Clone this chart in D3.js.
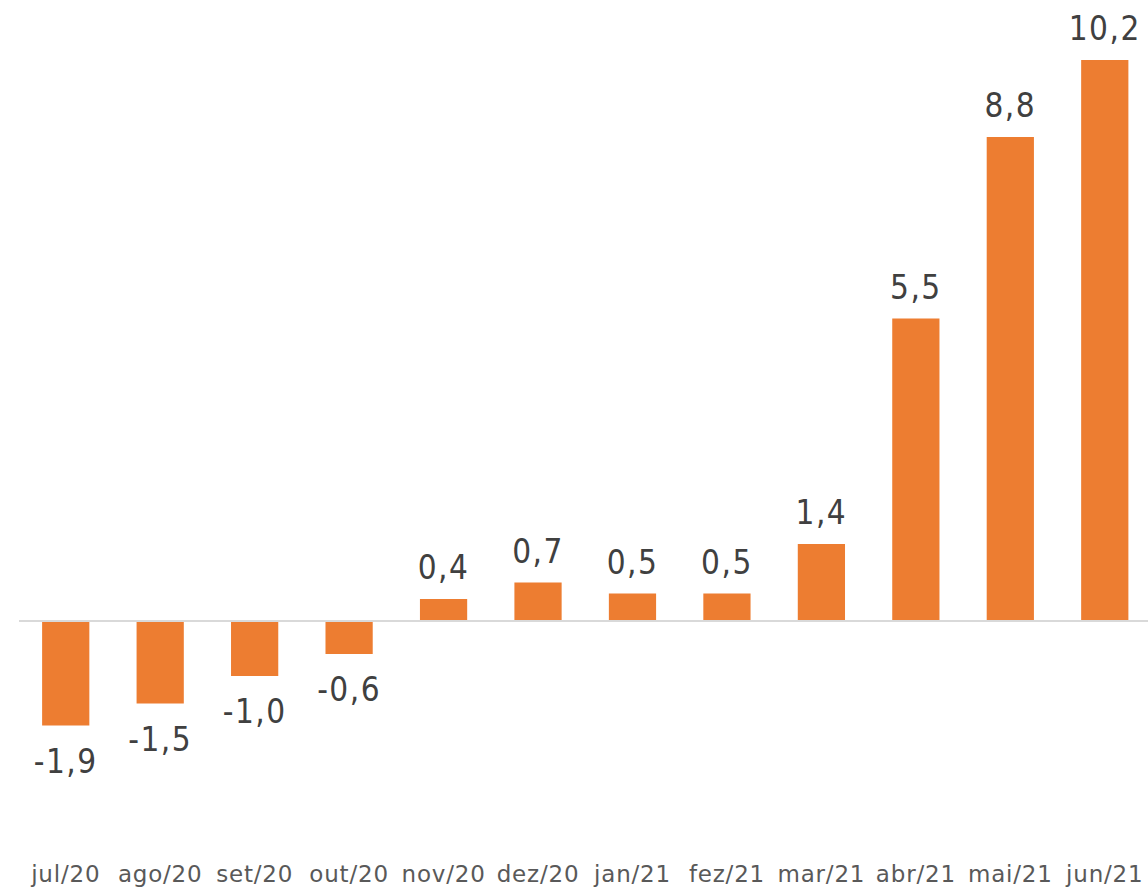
<!DOCTYPE html>
<html>
<head>
<meta charset="utf-8">
<script src="https://cdn.jsdelivr.net/npm/d3@7"></script>
<style>
  body { margin: 0; background: #fff; }
  svg { display: block; }
</style>
</head>
<body>
<div id="chart"></div>
<script>
// data
var months = ["jul/20", "ago/20", "set/20", "out/20", "nov/20", "dez/20",
              "jan/21", "fez/21", "mar/21", "abr/21", "mai/21", "jun/21"];
var values = [-1.9, -1.5, -1.0, -0.6, 0.4, 0.7, 0.5, 0.5, 1.4, 5.5, 8.8, 10.2];

var width = 1148, height = 891;

var svg = d3.select("#chart").append("svg")
  .attr("width", width)
  .attr("height", height);

// scales
var x = d3.scaleBand()
  .domain(months)
  .range([18.5, 1152])
  .paddingInner(0.5)
  .paddingOuter(0.25);

var y = d3.scaleLinear()
  .domain([-1.9, 10.2])
  .range([725.5, 60]);

var fmt = function(v) { return d3.format(".1f")(v).replace(".", ",").replace("−", "-"); };

// bars
svg.selectAll("rect.bar")
  .data(values)
  .enter().append("rect")
  .attr("class", "bar")
  .attr("x", function(d, i) { return x(months[i]); })
  .attr("width", x.bandwidth())
  .attr("y", function(d) { return y(Math.max(0, d)); })
  .attr("height", function(d) { return Math.abs(y(d) - y(0)); })
  .attr("fill", "#ED7D31");

// zero line
svg.append("line")
  .attr("x1", 19).attr("x2", width)
  .attr("y1", y(0)).attr("y2", y(0))
  .attr("stroke", "#D9D9D9")
  .attr("stroke-width", 2);

// value labels
svg.selectAll("text.val")
  .data(values)
  .enter().append("text")
  .attr("class", "val")
  .attr("x", function(d, i) { return x(months[i]) + x.bandwidth() / 2; })
  .attr("y", function(d) { return d >= 0 ? y(d) - 20 : y(d) + 47; })
  .attr("text-anchor", "middle")
  .attr("font-family", "'DejaVu Sans Condensed', 'DejaVu Sans', sans-serif")
  .attr("font-stretch", "condensed")
  .attr("font-size", 33)
  .attr("letter-spacing", 1.5)
  .attr("fill", "#404040")
  .text(fmt);

// category axis
var xAxis = d3.axisBottom(x).tickSize(0).tickPadding(0);
var gx = svg.append("g")
  .attr("transform", "translate(0,882)")
  .call(xAxis);
gx.select(".domain").remove();
gx.selectAll("text")
  .attr("dy", 0)
  .attr("font-family", "'DejaVu Sans', sans-serif")
  .attr("font-size", 23)
  .attr("letter-spacing", 0.8)
  .attr("fill", "#595959");
</script>
</body>
</html>
